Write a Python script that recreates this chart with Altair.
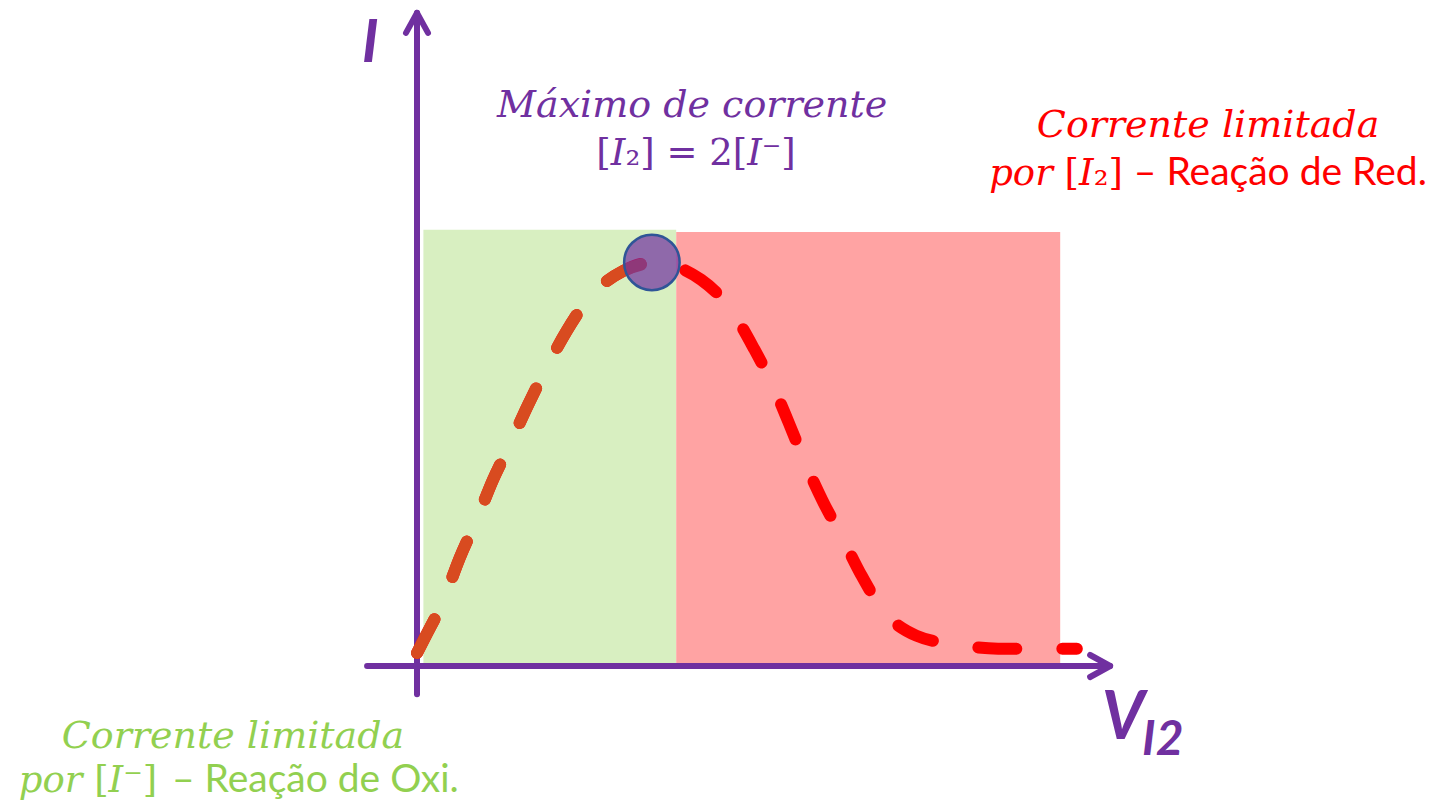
import altair as alt
import pandas as pd

# ---- data (V in arbitrary units, I relative) ----
voltage = [0.00, 0.14, 0.41, 0.67, 0.94, 1.19, 1.45, 1.73, 2.00, 2.33, 2.70, 3.22, 3.67,
           4.44, 4.91, 5.27, 5.55, 5.81, 6.06, 6.34, 6.63, 6.94, 7.27, 7.80, 8.41, 9.08, 9.73, 10.31]
current = [0.03, 0.07, 0.15, 0.25, 0.34, 0.43, 0.51, 0.60, 0.68, 0.77, 0.85, 0.91, 0.93,
           0.89, 0.82, 0.73, 0.65, 0.56, 0.47, 0.38, 0.30, 0.21, 0.13, 0.07, 0.05, 0.04, 0.04, 0.04]
peak_index = 12

zone_names = ["oxi", "red"]
zone_v0 = [0.10, 4.05]
zone_v1 = [4.05, 10.05]
zone_i0 = [0.0, 0.0]
zone_i1 = [1.005, 1.0]
zone_colors = ["#D8EFC1", "#FFA3A3"]

axis_v0 = [0.0, -0.78]
axis_v1 = [0.0, 10.83]
axis_i0 = [-0.065, 0.0]
axis_i1 = [1.505, 0.0]

# ---- layout (pixel anchors) ----
W, H, M = 1422, 794, 8
ORIGIN_X, PX_PER_V = 417, 64
ORIGIN_Y, PX_PER_I = 666, 434
x_dom = [(M - ORIGIN_X) / PX_PER_V, (M + W - ORIGIN_X) / PX_PER_V]
y_dom = [(ORIGIN_Y - (M + H)) / PX_PER_I, (ORIGIN_Y - M) / PX_PER_I]
xs = alt.Scale(domain=x_dom, nice=False, zero=False)
ys = alt.Scale(domain=y_dom, nice=False, zero=False)

PURPLE = "#7030A0"
RED = "#FF0000"
GREEN = "#92D050"
ORANGE = "#D84B20"

def X(f="v"):
    return alt.X(f + ":Q", scale=xs, axis=None)

def Y(f="i"):
    return alt.Y(f + ":Q", scale=ys, axis=None)

curve = pd.DataFrame({"v": voltage, "i": current, "k": range(len(voltage))})
curve_left = curve.iloc[: peak_index + 1]
zones = pd.DataFrame({"name": zone_names, "v": zone_v0, "v2": zone_v1,
                      "i": zone_i0, "i2": zone_i1, "c": zone_colors})
axes_df = pd.DataFrame({"v": axis_v0, "v2": axis_v1, "i": axis_i0, "i2": axis_i1})

rects = alt.Chart(zones).mark_rect().encode(
    x=X(), x2="v2:Q", y=Y(), y2="i2:Q",
    color=alt.Color("c:N", scale=None))

axis_lines = alt.Chart(axes_df).mark_rule(
    color=PURPLE, strokeWidth=6, strokeCap="round").encode(
    x=X(), x2="v2:Q", y=Y(), y2="i2:Q")

up_tip = pd.DataFrame({"v": [axis_v0[0]], "i": [axis_i1[0]]})
right_tip = pd.DataFrame({"v": [axis_v1[1]], "i": [axis_i1[1]]})
arrow_style = dict(filled=False, stroke=PURPLE, strokeWidth=6, strokeCap="round",
                   strokeJoin="round", opacity=1, size=1600)
up_arrow = alt.Chart(up_tip).mark_point(shape="M-0.55,1L0,0L0.55,1", **arrow_style).encode(x=X(), y=Y())
right_arrow = alt.Chart(right_tip).mark_point(shape="M-1,-0.55L0,0L-1,0.55", **arrow_style).encode(x=X(), y=Y())

line_style = dict(strokeWidth=12, strokeDash=[38, 46], strokeCap="round", interpolate="monotone")
red_line = alt.Chart(curve).mark_line(color=RED, **line_style).encode(x=X(), y=Y(), order="k:Q")
orange_line = alt.Chart(curve_left).mark_line(color=ORANGE, **line_style).encode(x=X(), y=Y(), order="k:Q")

peak = pd.DataFrame({"v": [voltage[peak_index]], "i": [current[peak_index]]})
peak_dot = alt.Chart(peak).mark_point(
    shape="circle", size=3080, filled=True, fill=PURPLE, fillOpacity=0.7,
    stroke="#2F5597", strokeWidth=2.5, strokeOpacity=1, opacity=1).encode(x=X(), y=Y())

def label(text, v, i, **kw):
    df = pd.DataFrame({"t": [text], "v": [v], "i": [i]})
    base = dict(baseline="alphabetic")
    base.update(kw)
    return alt.Chart(df).mark_text(**base).encode(x=X(), y=Y(), text="t:N")

MATH_IT = dict(font="DejaVu Serif", fontStyle="italic", fontSize=38)
MATH = dict(font="DejaVu Serif", fontSize=37)
SANS = dict(font="Lato", fontSize=39)

texts = [
    label("I", -0.73, 1.392, align="center", font="Lato", fontStyle="italic",
          fontWeight="bold", fontSize=60, color=PURPLE),
    label("V", 10.70, -0.168, align="left", font="Lato", fontStyle="italic",
          fontWeight="bold", fontSize=66, color=PURPLE),
    label("I2", 11.33, -0.205, align="left", font="Lato", fontStyle="italic",
          fontWeight="bold", fontSize=48, color=PURPLE),
    label("Máximo de corrente", 4.30, 1.265, align="center", color=PURPLE, **MATH_IT),
    label("[𝐼₂] = 2[𝐼⁻]", 4.36, 1.154, align="center", color=PURPLE, **MATH),
    label("Corrente limitada", 12.36, 1.219, align="center", color=RED, **MATH_IT),
    label("𝑝𝑜𝑟 [𝐼₂]", 11.03, 1.108, align="right", color=RED, **MATH),
    label("– Reação de Red.", 11.20, 1.108, align="left", color=RED, **SANS),
    label("Corrente limitada", -2.875, -0.189, align="center", color=GREEN, **MATH_IT),
    label("𝑝𝑜𝑟 [𝐼⁻]", -4.06, -0.290, align="right", color=GREEN, **MATH),
    label("– Reação de Oxi.", -3.83, -0.290, align="left", color=GREEN, **SANS),
]

chart = alt.layer(rects, axis_lines, up_arrow, right_arrow, red_line, orange_line,
                  peak_dot, *texts).properties(
    width=W, height=H, autosize=alt.AutoSizeParams(type="none"), padding=0
).configure_view(stroke=None)

chart.save("out.html", embed_options={"renderer": "svg", "actions": False})
